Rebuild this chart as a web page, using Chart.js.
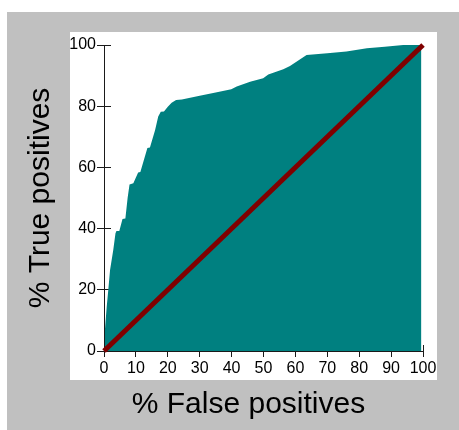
<!DOCTYPE html>
<html>
<head>
<meta charset="utf-8">
<title>ROC curve</title>
<script src="https://cdn.jsdelivr.net/npm/chart.js@4/dist/chart.umd.min.js"></script>
<style>
  html, body { margin: 0; padding: 0; background: #ffffff; }
  #wrap { width: 459px; height: 430px; }
</style>
</head>
<body>
<div id="wrap"><canvas id="roc" width="459" height="430"></canvas></div>
<script>
// ROC curve: % false positives (x) against % true positives (y)
const falsePositives = [0, 0.3, 0.85, 1.35, 1.9, 2.9, 3.6, 3.9, 4.8, 5.8, 6.7, 7.4, 8.0, 9.2, 10.7, 11.4,
  13.6, 14.4, 16.0, 17.0, 17.8, 18.8, 20.0, 21.2, 22.6, 24.4, 30, 35, 39.9, 41.6, 45.8, 49.9,
  51.5, 56.2, 58.3, 63.5, 70, 76, 82.4, 88, 93.8, 99.5];
const truePositives = [0, 7, 14.5, 20, 26.5, 33, 38.5, 39.2, 39.2, 43.1, 43.3, 50, 54.4, 54.8, 58.3, 58.5,
  66.3, 66.5, 72.1, 76.6, 78.2, 78.3, 79.8, 81.1, 82.0, 82.2, 83.4, 84.5, 85.5, 86.4, 88.0, 89.1,
  90.4, 92.1, 93.1, 96.7, 97.3, 97.9, 98.9, 99.4, 100, 100];

// Chance diagonal
const chanceX = [0, 100];
const chanceY = [0, 100];

// Tick values
const xTicks = [0, 10, 20, 30, 40, 50, 60, 70, 80, 90, 100];
const yTicks = [0, 20, 40, 60, 80, 100];

const xTitle = '% False positives';
const yTitle = '% True positives';

const FONT = '"Liberation Sans", Arial, Helvetica, sans-serif';
const AXIS = '#1a1a1a';
const tickFont = { family: FONT, size: 16 };

const toPoints = (xs, ys) => xs.map((x, i) => ({ x: x, y: ys[i] }));
const setTicks = list => scale => { scale.ticks = list.map(v => ({ value: v })); };

// Gray frame with a white panel behind the plot
const framePlugin = {
  id: 'frame',
  beforeDraw(chart) {
    const ctx = chart.ctx;
    ctx.save();
    ctx.fillStyle = '#c0c0c0';
    ctx.fillRect(7, 12, 452, 418);
    ctx.fillStyle = '#ffffff';
    ctx.fillRect(70, 32, 367, 348);
    ctx.restore();
  }
};

// Horizontal axis caption
const xCaptionPlugin = {
  id: 'xCaption',
  afterDraw(chart) {
    const ctx = chart.ctx;
    ctx.save();
    ctx.font = '30px ' + FONT;
    ctx.fillStyle = '#000000';
    ctx.textAlign = 'center';
    ctx.textBaseline = 'middle';
    ctx.fillText(xTitle, 248.5, 405);
    ctx.restore();
  }
};

new Chart(document.getElementById('roc'), {
  type: 'line',
  data: {
    datasets: [
      {
        data: toPoints(chanceX, chanceY),
        borderColor: '#800000',
        borderWidth: 5,
        pointRadius: 0,
        fill: false,
        order: 1,
        clip: false
      },
      {
        data: toPoints(falsePositives, truePositives),
        backgroundColor: '#008080',
        borderColor: '#008080',
        borderWidth: 0,
        pointRadius: 0,
        tension: 0,
        fill: 'origin',
        order: 2
      }
    ]
  },
  options: {
    responsive: false,
    animation: false,
    devicePixelRatio: 1,
    layout: { padding: { left: 0, top: 45, right: 36, bottom: 0 } },
    plugins: {
      legend: { display: false },
      tooltip: { enabled: false }
    },
    scales: {
      x: {
        type: 'linear', position: 'bottom', min: 0, max: 100, weight: 1, z: 1,
        afterBuildTicks: setTicks(xTicks),
        afterFit: s => { s.height = 79; },
        border: { display: true, color: AXIS, width: 1 },
        grid: { drawOnChartArea: false, drawTicks: true, tickLength: 6, color: AXIS },
        ticks: { padding: 2, color: '#000000', font: tickFont, maxRotation: 0, autoSkip: false }
      },
      xIn: {
        type: 'linear', position: 'bottom', min: 0, max: 100, weight: 0, z: 1,
        afterBuildTicks: setTicks(xTicks),
        afterFit: s => { s.height = 0; },
        border: { display: false },
        grid: { drawOnChartArea: false, drawTicks: true, tickLength: -6, color: AXIS },
        ticks: { display: false }
      },
      y: {
        type: 'linear', position: 'left', min: 0, max: 100, weight: 1, z: 1,
        afterBuildTicks: setTicks(yTicks),
        afterFit: s => { s.width = 104; },
        border: { display: true, color: AXIS, width: 1 },
        grid: { drawOnChartArea: false, drawTicks: true, tickLength: 7, color: AXIS },
        ticks: { padding: 1, color: '#000000', font: tickFont },
        title: {
          display: true, text: yTitle, color: '#000000',
          font: { family: FONT, size: 30 },
          padding: { top: 23, bottom: 0 }
        }
      },
      yIn: {
        type: 'linear', position: 'left', min: 0, max: 100, weight: 0, z: 1,
        afterBuildTicks: setTicks(yTicks),
        afterFit: s => { s.width = 0; },
        border: { display: false },
        grid: { drawOnChartArea: false, drawTicks: true, tickLength: -7, color: AXIS },
        ticks: { display: false }
      }
    }
  },
  plugins: [framePlugin, xCaptionPlugin]
});
</script>
</body>
</html>
